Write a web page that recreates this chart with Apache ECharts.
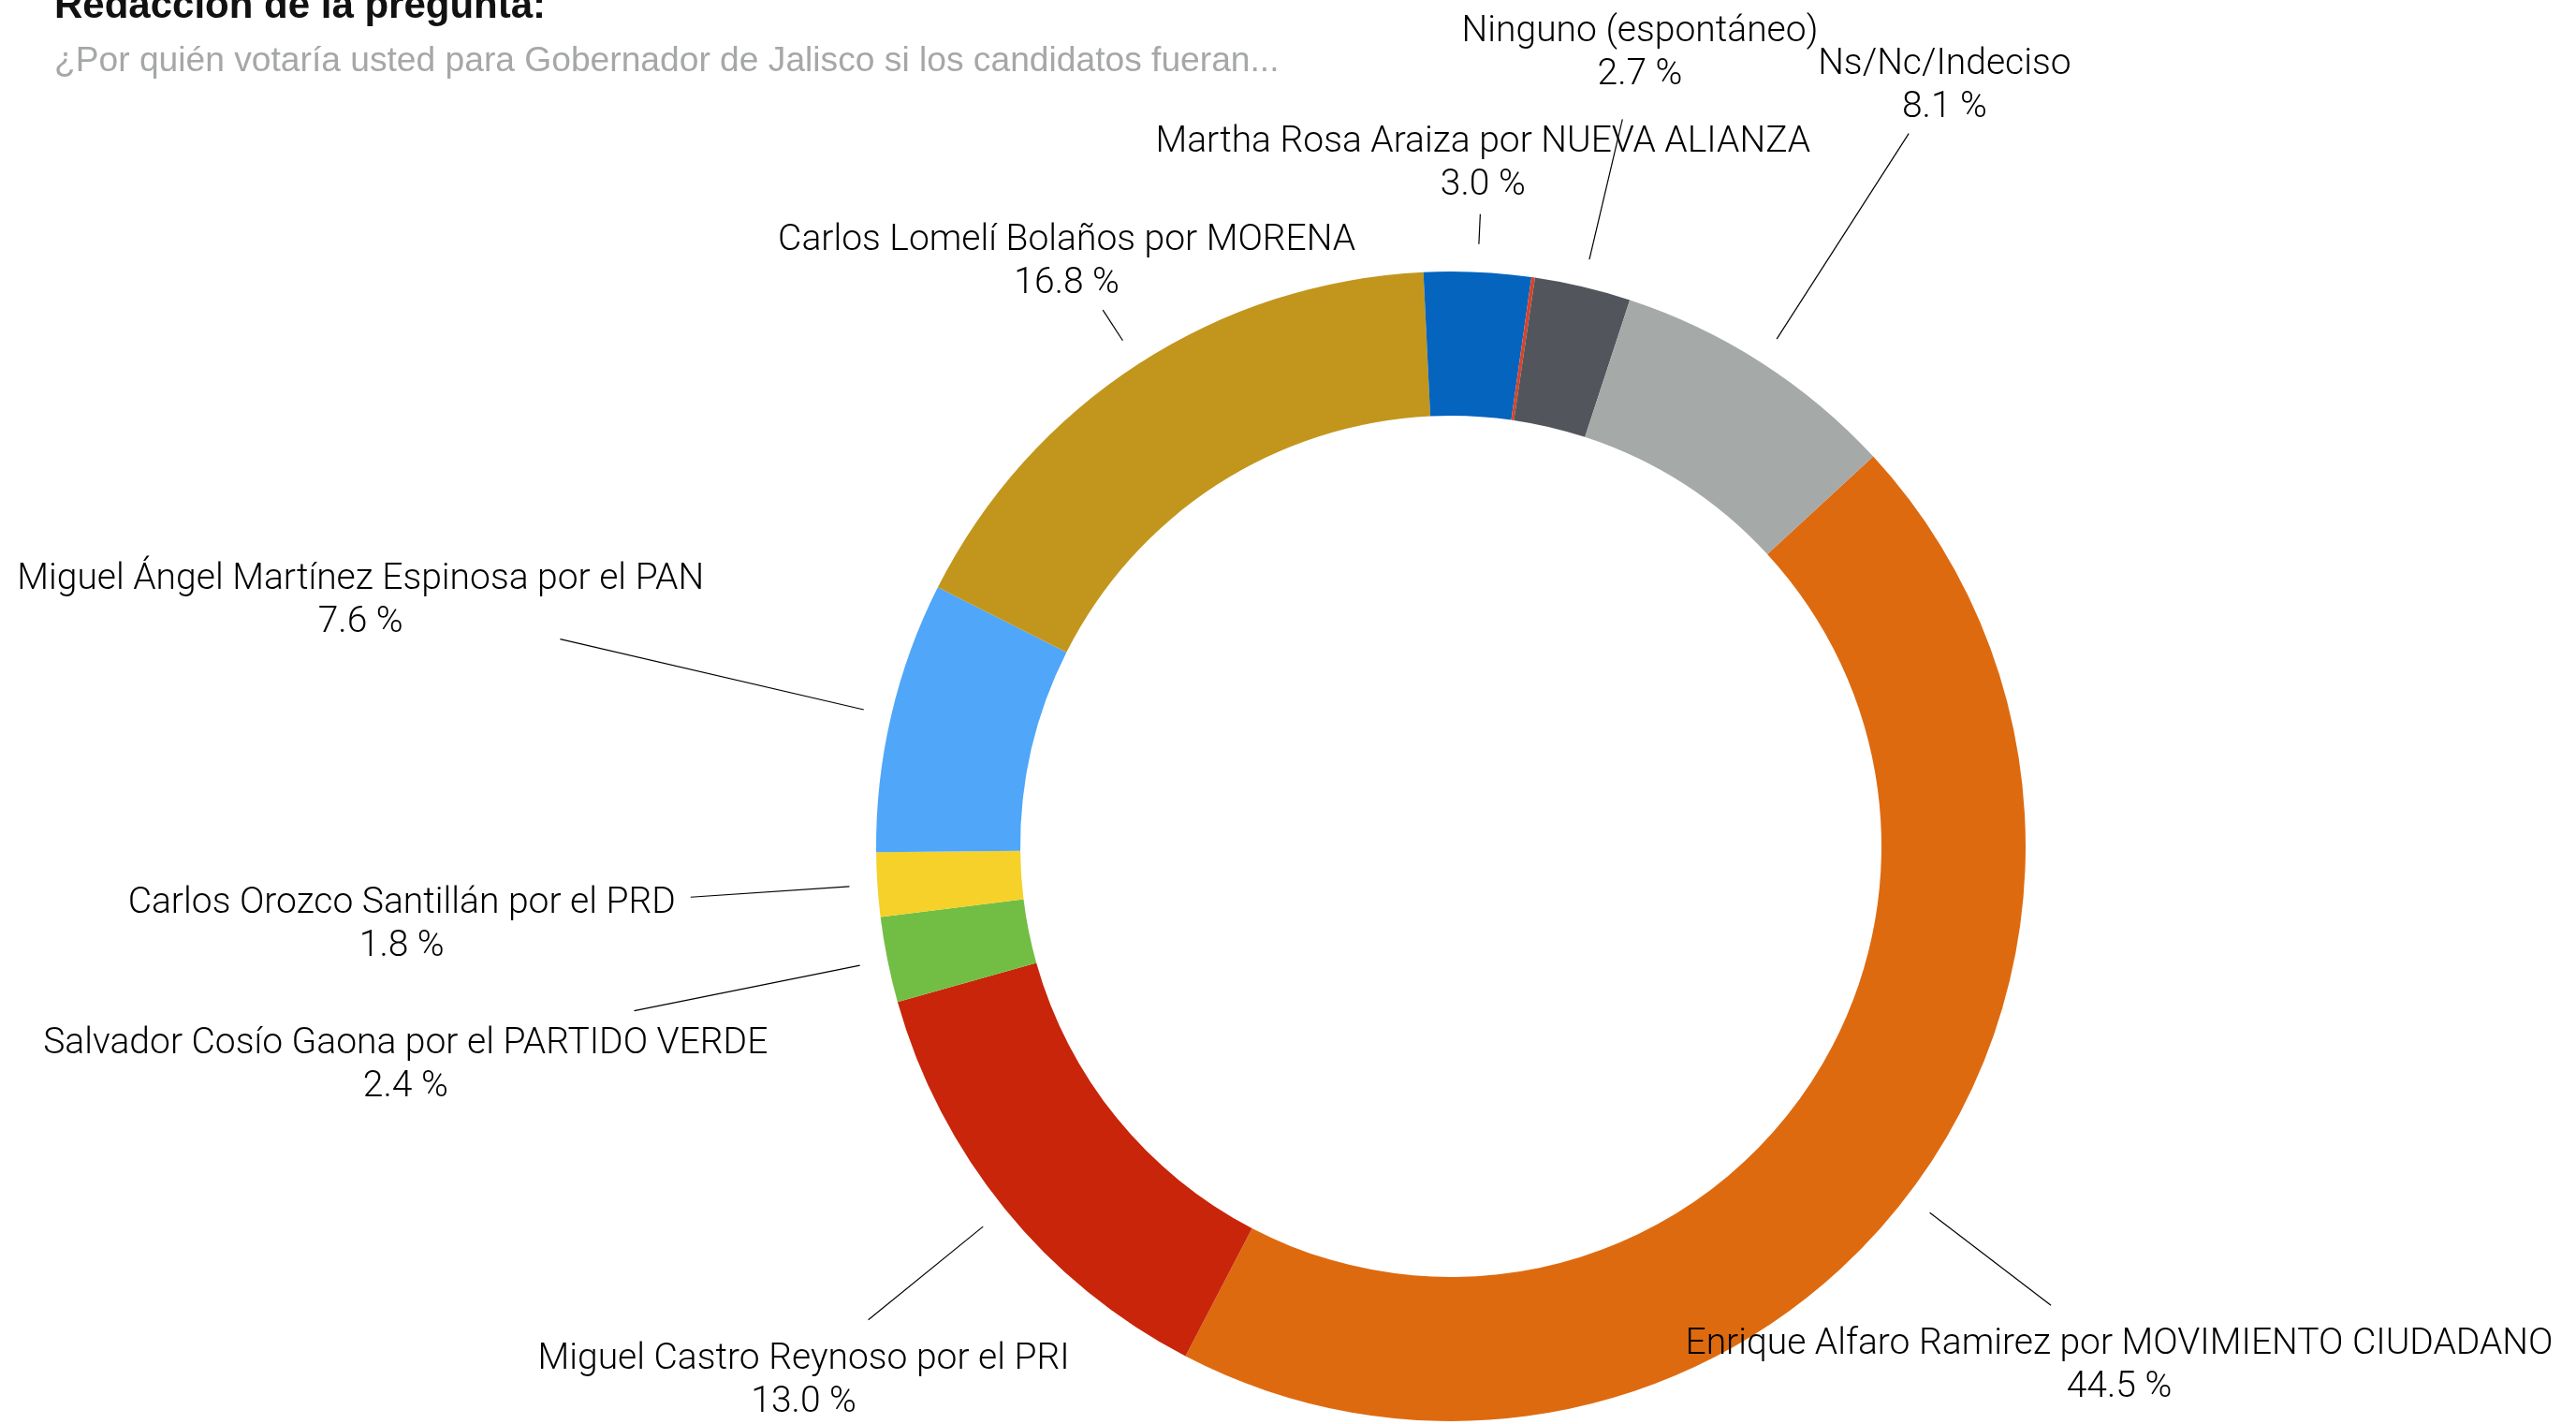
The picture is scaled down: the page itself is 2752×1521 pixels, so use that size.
<!DOCTYPE html>
<html>
<head>
<meta charset="utf-8">
<script src="https://cdn.jsdelivr.net/npm/echarts@6/dist/echarts.min.js"></script>
<style>
  html, body { margin: 0; padding: 0; background: #fff; }
  #chart { width: 2752px; height: 1521px; }
</style>
</head>
<body>
<div id="chart"></div>
<script>
  // datos de la encuesta (porcentajes)
  const candidatos = [
    'Enrique Alfaro Ramirez por MOVIMIENTO CIUDADANO',
    'Miguel Castro Reynoso por el PRI',
    'Salvador Cosío Gaona por el PARTIDO VERDE',
    'Carlos Orozco Santillán por el PRD',
    'Miguel Ángel Martínez Espinosa por el PAN',
    'Carlos Lomelí Bolaños por MORENA',
    'Martha Rosa Araiza por NUEVA ALIANZA',
    'Otro',
    'Ninguno (espontáneo)',
    'Ns/Nc/Indeciso'
  ];
  const porcentajes = [44.5, 13.0, 2.4, 1.8, 7.6, 16.8, 3.0, 0.1, 2.7, 8.1];

  const colores = ['#de6a10', '#c8250a', '#72be44', '#f5d12a', '#50a6f8',
                   '#c2961d', '#0464be', '#d8432a', '#52565c', '#a5a9a7'];
  // largo de cada linea guia y separacion extra de la etiqueta
  const largos = [193, 188, 276, 200, 363, 69, 62, 0, 184, 291];
  const extra = [0, 0, 0, 0, 0, 0, 0, 0, 18, 0];
  const hueco = 30;

  const font = '"Helvetica Neue", "Liberation Sans", Arial, sans-serif';

  const chart = echarts.init(document.getElementById('chart'));

  const data = candidatos.map(function (n, i) {
    return {
      name: n,
      value: porcentajes[i],
      itemStyle: { color: colores[i] },
      label: { show: largos[i] > 0 },
      labelLine: { show: largos[i] > 0, length: largos[i], length2: 0 }
    };
  });

  chart.setOption({
    animation: false,
    title: [
      {
        text: 'Redacción de la pregunta:',
        left: 53, top: -19,
        textStyle: { fontFamily: font, fontSize: 42, fontWeight: 'bold', color: '#111' }
      },
      {
        text: '¿Por quién votaría usted para Gobernador de Jalisco si los candidatos fueran...',
        left: 53, top: 42,
        textStyle: { fontFamily: font, fontSize: 37.2, fontWeight: 'normal', color: '#a5a8a6' }
      }
    ],
    series: [{
      type: 'pie',
      center: [1550, 904],
      radius: [460, 614],
      startAngle: 42.7,
      clockwise: true,
      avoidLabelOverlap: false,
      data: data,
      label: {
        position: 'outside',
        fontFamily: '"Roboto", "Liberation Sans", sans-serif',
        fontWeight: 300,
        fontSize: 39,
        lineHeight: 46,
        color: '#000',
        align: 'center',
        formatter: function (p) {
          return p.name + '\n' + p.value.toFixed(1) + ' %';
        }
      },
      labelLine: {
        lineStyle: { color: '#000', width: 1.2 }
      },
      labelLayout: function (p) {
        const pts = p.labelLinePoints;
        if (!pts) return {};
        const x0 = pts[0][0], y0 = pts[0][1];
        const x1 = pts[1][0], y1 = pts[1][1];
        const len = Math.hypot(x1 - x0, y1 - y0) || 1;
        const dx = (x1 - x0) / len, dy = (y1 - y0) / len;
        const w = p.labelRect.width, h = p.labelRect.height;
        const t = Math.min(
          Math.abs(dx) > 1e-6 ? (w / 2) / Math.abs(dx) : Infinity,
          Math.abs(dy) > 1e-6 ? (h / 2) / Math.abs(dy) : Infinity
        ) + 16 + extra[p.dataIndex];
        return {
          x: x1 + dx * t,
          y: y1 + dy * t + 9,
          align: 'center',
          verticalAlign: 'middle',
          labelLinePoints: [[x0 + dx * hueco, y0 + dy * hueco], [x1, y1], [x1, y1]]
        };
      }
    }]
  });
</script>
</body>
</html>
